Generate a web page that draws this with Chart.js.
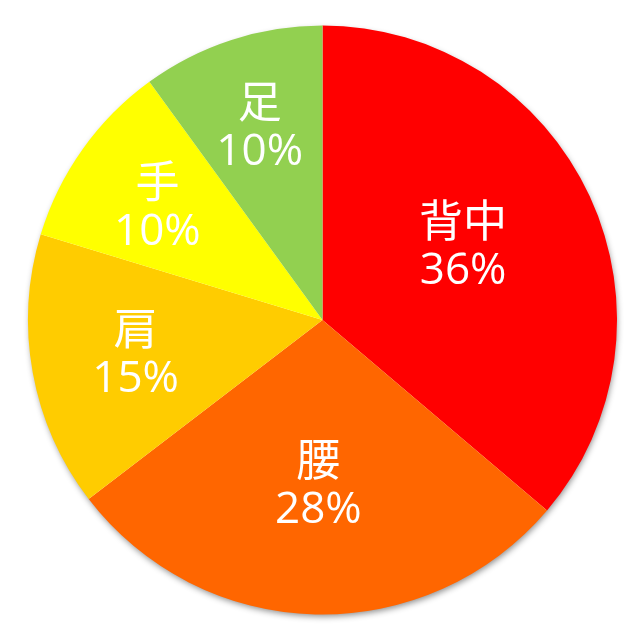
<!DOCTYPE html>
<html>
<head>
<meta charset="utf-8">
<script src="https://cdn.jsdelivr.net/npm/chart.js@4"></script>
<style>
  html, body { margin: 0; padding: 0; background: #fff; }
  #wrap { width: 640px; height: 640px; }
</style>
</head>
<body>
<div id="wrap"><canvas id="pie"></canvas></div>
<script>
const labels = ['背中', '腰', '肩', '手', '足'];
const values = [36.2, 28.4, 15.1, 10.3, 10.0];
const colors = ['#FF0000', '#FF6600', '#FFCC00', '#FFFF00', '#92D050'];

// label placement: fraction of radius, and a small nudge of the angle (degrees)
const labelRadius = [0.54, 0.56, 0.645, 0.68, 0.69];
const labelNudge = [-3, 0, 0, -1, 0];

const shadowPlugin = {
  id: 'pieShadow',
  beforeDatasetsDraw(chart) {
    const arc = chart.getDatasetMeta(0).data[0];
    if (!arc) return;
    const ctx = chart.ctx;
    ctx.save();
    ctx.shadowColor = 'rgba(0,0,0,0.45)';
    ctx.shadowBlur = 6;
    ctx.shadowOffsetX = 1;
    ctx.shadowOffsetY = 3;
    ctx.fillStyle = '#ffffff';
    ctx.beginPath();
    ctx.arc(arc.x, arc.y, arc.outerRadius - 1, 0, Math.PI * 2);
    ctx.fill();
    ctx.restore();
  }
};

const labelPlugin = {
  id: 'sliceLabels',
  afterDatasetsDraw(chart) {
    const ctx = chart.ctx;
    const meta = chart.getDatasetMeta(0);
    const data = chart.data.datasets[0].data;
    const total = data.reduce((a, b) => a + b, 0);
    ctx.save();
    ctx.fillStyle = '#ffffff';
    ctx.textAlign = 'center';
    ctx.textBaseline = 'middle';
    ctx.font = '44px "Open Sans", "Noto Sans CJK JP", sans-serif';
    meta.data.forEach((arc, i) => {
      const p = arc.getProps(['x', 'y', 'startAngle', 'endAngle', 'outerRadius'], true);
      const mid = (p.startAngle + p.endAngle) / 2 + labelNudge[i] * Math.PI / 180;
      const r = p.outerRadius * labelRadius[i];
      const cx = p.x + Math.cos(mid) * r;
      const cy = p.y + Math.sin(mid) * r;
      const pct = Math.round(data[i] / total * 100) + '%';
      ctx.fillText(chart.data.labels[i], cx, cy - 21);
      ctx.fillText(pct, cx, cy + 26);
    });
    ctx.restore();
  }
};

new Chart(document.getElementById('pie'), {
  type: 'pie',
  data: {
    labels: labels,
    datasets: [{
      data: values,
      backgroundColor: colors,
      borderWidth: 0
    }]
  },
  options: {
    responsive: true,
    maintainAspectRatio: false,
    animation: false,
    layout: { padding: { left: 28, right: 23, top: 25, bottom: 25 } },
    plugins: {
      legend: { display: false },
      tooltip: { enabled: false }
    }
  },
  plugins: [shadowPlugin, labelPlugin]
});
</script>
</body>
</html>
